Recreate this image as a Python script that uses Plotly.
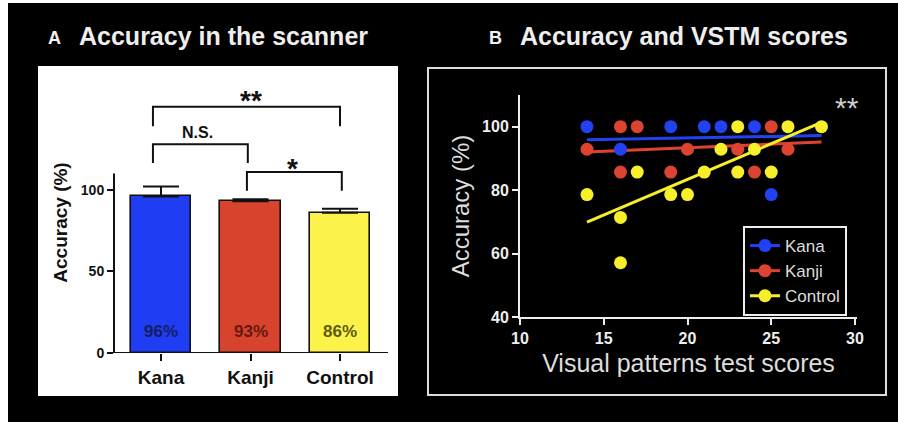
import plotly.graph_objects as go

W, H = 898, 422

# ---------------- data ----------------
groups = ["Kana", "Kanji", "Control"]
accuracy = [96, 93, 86]
accuracy_err = [6, 1.3, 2.5]
pct_labels = ["96%", "93%", "86%"]
bar_colors = ["#1f3ef4", "#d8432d", "#fcf34a"]
pct_colors = ["#161d62", "#641a10", "#5e5a14"]

kana_x = [14, 16, 19, 21, 22, 24, 25]
kana_y = [100, 92.9, 100, 100, 100, 100, 78.6]
kanji_x = [14, 16, 17, 16, 19, 20, 23, 24, 25, 26]
kanji_y = [92.9, 100, 100, 85.7, 85.7, 92.9, 92.9, 85.7, 100, 92.9]
control_x = [14, 16, 16, 17, 19, 20, 21, 22, 23, 23, 24, 25, 26, 28]
control_y = [78.6, 71.4, 57.1, 85.7, 78.6, 78.6, 85.7, 92.9, 100, 85.7, 92.9, 85.7, 100, 100]
fit_x = [14, 28]
kana_fit = [95.9, 97.2]
kanji_fit = [92.0, 95.2]
control_fit = [69.9, 101.4]
scatter_colors = ["#2141f2", "#dc4330", "#f7ef2a"]

FONT = "Liberation Sans, Arial, Helvetica, sans-serif"


def fx(p):
    return p / W


def fy(p):
    return 1 - p / H


fig = go.Figure()

# ---------------- panel A: bars ----------------
fig.add_trace(go.Bar(
    x=[0, 1, 2], y=accuracy, width=0.68,
    marker=dict(color=bar_colors, line=dict(color="#111111", width=1.6)),
    error_y=dict(type="data", array=accuracy_err, arrayminus=[0, 0, 0], symmetric=False,
                 color="#111111", thickness=2, width=18),
    xaxis="x", yaxis="y", showlegend=False, hoverinfo="skip",
))

# ---------------- panel B: scatter ----------------
for fit_vals, col in zip([kana_fit, kanji_fit, control_fit], scatter_colors):
    fig.add_trace(go.Scatter(x=fit_x, y=fit_vals, mode="lines", line=dict(color=col, width=3),
                             xaxis="x2", yaxis="y2", showlegend=False, hoverinfo="skip"))
for xs, ys, col in zip([kana_x, kanji_x, control_x], [kana_y, kanji_y, control_y], scatter_colors):
    fig.add_trace(go.Scatter(x=xs, y=ys, mode="markers", marker=dict(color=col, size=13),
                             xaxis="x2", yaxis="y2", showlegend=False))
for name, col in zip(groups, scatter_colors):
    fig.add_trace(go.Scatter(x=[None], y=[None], mode="lines+markers", name=name,
                             line=dict(color=col, width=3), marker=dict(color=col, size=13),
                             xaxis="x2", yaxis="y2"))

shapes = [
    dict(type="rect", xref="paper", yref="paper", x0=fx(8), x1=fx(W + 2), y0=fy(3), y1=fy(H + 2),
         fillcolor="black", line=dict(width=0), layer="below"),
    dict(type="rect", xref="paper", yref="paper", x0=fx(38), x1=fx(398), y0=fy(66), y1=fy(396),
         fillcolor="white", line=dict(width=0), layer="below"),
    dict(type="rect", xref="paper", yref="paper", x0=fx(428), x1=fx(886), y0=fy(68), y1=fy(395),
         fillcolor="rgba(0,0,0,0)", line=dict(color="#dddddd", width=2)),
    # panel A axis lines
    dict(type="line", xref="paper", yref="y", x0=fx(114), x1=fx(114), y0=0, y1=110,
         line=dict(color="#111111", width=2)),
    dict(type="line", xref="paper", yref="y", x0=fx(107), x1=fx(388), y0=0, y1=0,
         line=dict(color="#111111", width=2)),
    # significance brackets
    dict(type="path", xref="x", yref="y", path="M -0.09,139 L -0.09,151 L 2.0,151 L 2.0,139",
         line=dict(color="#111111", width=2)),
    dict(type="path", xref="x", yref="y", path="M -0.09,116.5 L -0.09,128 L 0.97,128 L 0.97,116.5",
         line=dict(color="#111111", width=2)),
    dict(type="path", xref="x", yref="y", path="M 0.96,99.5 L 0.96,111 L 2.02,111 L 2.02,99.5",
         line=dict(color="#111111", width=2)),
]

annotations = []
for i, (lab, col) in enumerate(zip(pct_labels, pct_colors)):
    annotations.append(dict(x=i, y=13, xref="x", yref="y", text=lab, showarrow=False,
                            xanchor="center", yanchor="middle",
                            font=dict(family=FONT, size=17, color=col, weight="bold")))

annotations += [
    dict(x=fx(46), y=fy(38), xref="paper", yref="paper", xanchor="left", yanchor="middle",
         text="A", showarrow=False, font=dict(family=FONT, size=18, color="#f2f2f2", weight="bold")),
    dict(x=fx(77), y=fy(36), xref="paper", yref="paper", xanchor="left", yanchor="middle",
         text="Accuracy in the scanner", showarrow=False,
         font=dict(family=FONT, size=25, color="#eeeeee", weight="bold")),
    dict(x=fx(487), y=fy(38), xref="paper", yref="paper", xanchor="left", yanchor="middle",
         text="B", showarrow=False, font=dict(family=FONT, size=18, color="#f2f2f2", weight="bold")),
    dict(x=fx(518), y=fy(36), xref="paper", yref="paper", xanchor="left", yanchor="middle",
         text="Accuracy and VSTM scores", showarrow=False,
         font=dict(family=FONT, size=25, color="#eeeeee", weight="bold")),
    dict(x=1.0, y=155, xref="x", yref="y", text="**", showarrow=False,
         xanchor="center", yanchor="middle",
         font=dict(family=FONT, size=28, color="#111111", weight="bold")),
    dict(x=0.41, y=135, xref="x", yref="y", text="N.S.", showarrow=False,
         xanchor="center", yanchor="middle",
         font=dict(family=FONT, size=16, color="#111111", weight="bold")),
    dict(x=1.47, y=113, xref="x", yref="y", text="*", showarrow=False,
         xanchor="center", yanchor="middle",
         font=dict(family=FONT, size=28, color="#111111", weight="bold")),
    dict(x=fx(847), y=fy(107), xref="paper", yref="paper", text="**", showarrow=False,
         xanchor="center", yanchor="middle",
         font=dict(family=FONT, size=30, color="#cccccc")),
]

fig.update_layout(
    width=W, height=H,
    margin=dict(l=0, r=0, t=0, b=0, pad=0, autoexpand=False),
    paper_bgcolor="white", plot_bgcolor="rgba(0,0,0,0)",
    font=dict(family=FONT),
    shapes=shapes, annotations=annotations,
    bargap=0,
    xaxis=dict(domain=[fx(114), fx(387)], range=[-0.525, 2.525], tickvals=[0, 1, 2], ticktext=groups,
               ticks="outside", ticklen=7, tickwidth=2, tickcolor="#111111", automargin=False,
               showline=False, showgrid=False, zeroline=False,
               tickfont=dict(family=FONT, size=19, color="#111111", weight="bold")),
    yaxis=dict(domain=[fy(353), fy(92)], range=[0, 160], tickvals=[0, 50, 100],
               ticks="outside", ticklen=6, tickwidth=2, tickcolor="#111111", automargin=False,
               showline=False, showgrid=False, zeroline=False,
               tickfont=dict(family=FONT, size=14, color="#111111", weight="bold"),
               title=dict(text="Accuracy (%)", standoff=8,
                          font=dict(family=FONT, size=19, color="#111111", weight="bold"))),
    xaxis2=dict(domain=[fx(520), fx(857)], range=[10, 30.12], tickvals=[10, 15, 20, 25, 30],
                anchor="y2", ticks="outside", ticklen=6, tickwidth=2, tickcolor="#eeeeee",
                automargin=False,
                showline=True, linecolor="#eeeeee", linewidth=2, showgrid=False, zeroline=False,
                tickfont=dict(family=FONT, size=16, color="#eeeeee", weight="bold"),
                title=dict(text="Visual patterns test scores", standoff=8,
                           font=dict(family=FONT, size=25, color="#dddddd"))),
    yaxis2=dict(domain=[fy(317), fy(95)], range=[40, 110], tickvals=[40, 60, 80, 100],
                anchor="x2", ticks="outside", ticklen=6, tickwidth=2, tickcolor="#eeeeee",
                automargin=False,
                showline=True, linecolor="#eeeeee", linewidth=2, showgrid=False, zeroline=False,
                tickfont=dict(family=FONT, size=16, color="#eeeeee", weight="bold"),
                title=dict(text="Accuracy (%)", standoff=6,
                           font=dict(family=FONT, size=24, color="#dddddd"))),
    legend=dict(x=fx(743), y=fy(226), xanchor="left", yanchor="top",
                bgcolor="black", bordercolor="#eeeeee", borderwidth=2,
                font=dict(family=FONT, size=17, color="#dddddd"),
                tracegroupgap=0, itemwidth=30),
)

post = (
    "document.documentElement.style.margin='0';"
    "document.documentElement.style.overflow='hidden';"
    "document.body.style.margin='0';"
    "document.body.style.overflow='hidden';"
)

fig.write_html("out.html", config={"displayModeBar": False}, post_script=post)
